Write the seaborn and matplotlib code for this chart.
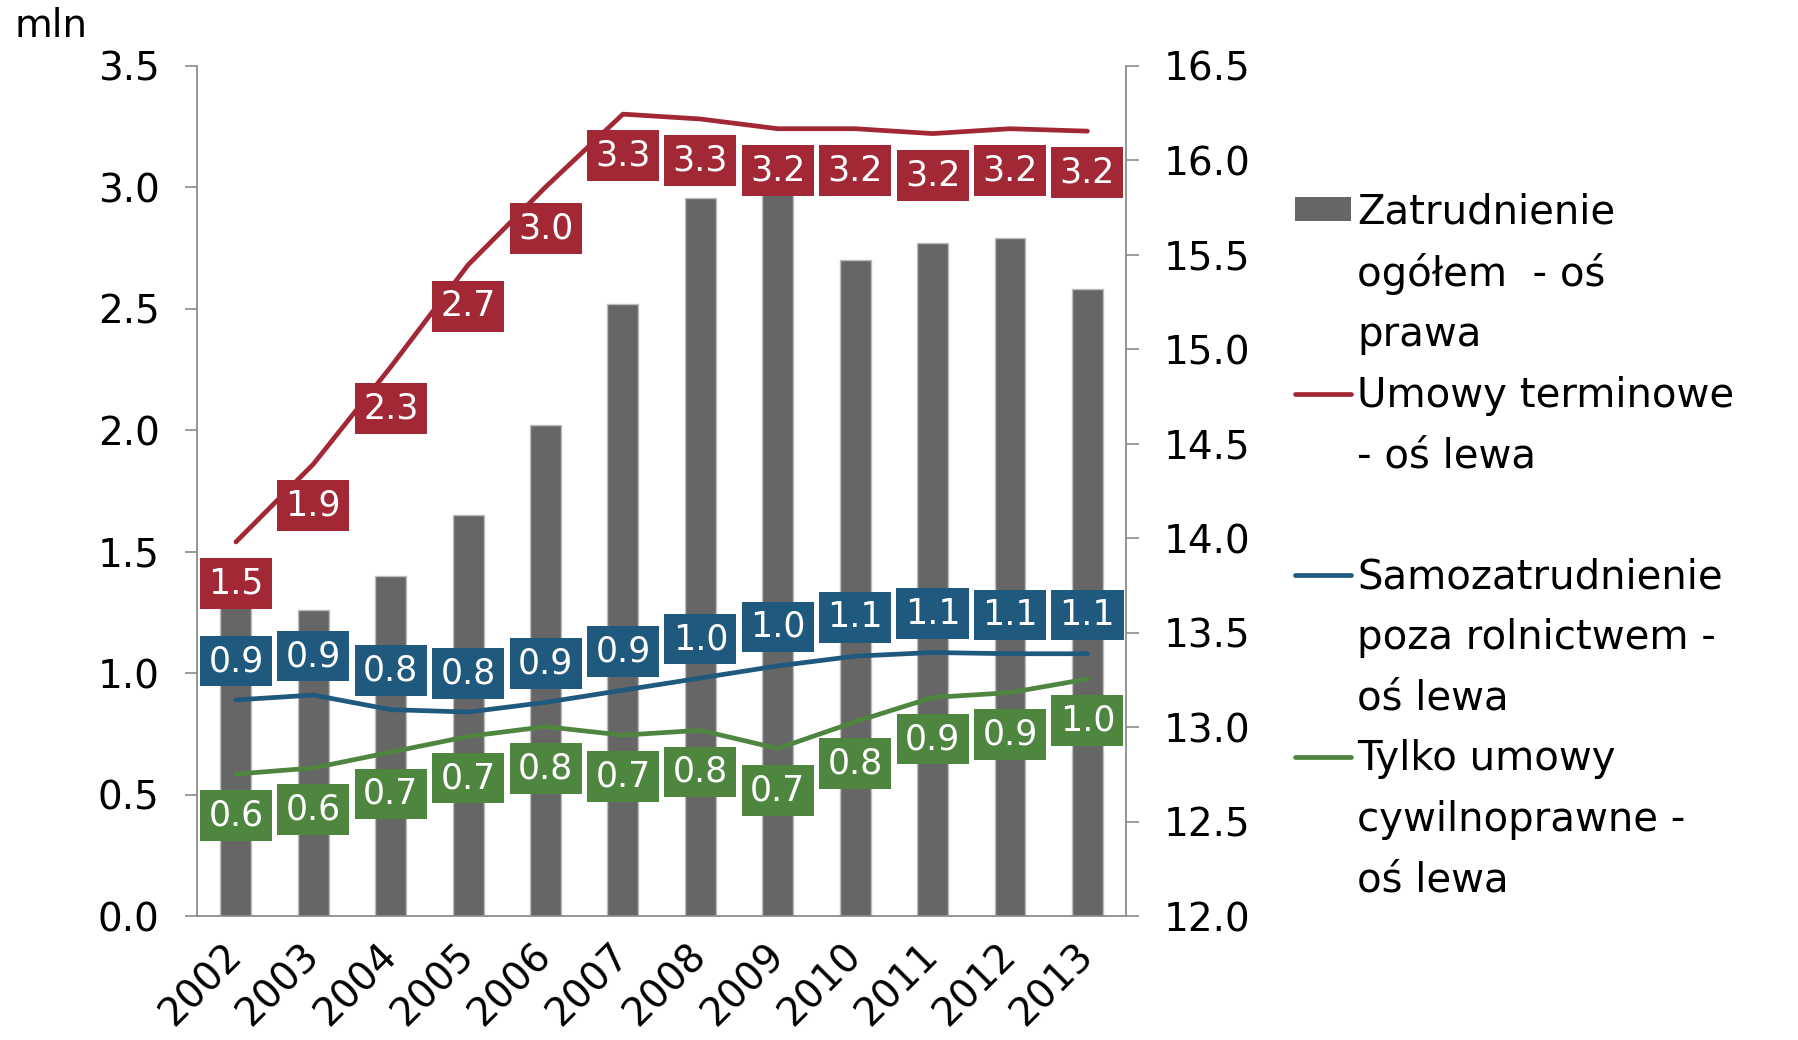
import numpy as np
import pandas as pd
import seaborn as sns
import matplotlib
matplotlib.use("Agg")
import matplotlib.pyplot as plt
from matplotlib.lines import Line2D
from matplotlib.patches import Patch

# Dane
lata = ["2002", "2003", "2004", "2005", "2006", "2007",
        "2008", "2009", "2010", "2011", "2012", "2013"]
zatrudnienie = [13.75, 13.62, 13.80, 14.12, 14.60, 15.24,
                15.80, 15.87, 15.47, 15.56, 15.59, 15.32]          # os prawa, mln
umowy_terminowe = [1.54, 1.86, 2.26, 2.68, 3.00, 3.30,
                   3.28, 3.24, 3.24, 3.22, 3.24, 3.23]             # os lewa
samozatrudnienie = [0.89, 0.91, 0.85, 0.84, 0.88, 0.93,
                    0.98, 1.03, 1.07, 1.085, 1.08, 1.08]
cywilnoprawne = [0.585, 0.61, 0.675, 0.74, 0.78, 0.745,
                 0.765, 0.69, 0.80, 0.90, 0.92, 0.976]

CZERWONY = "#A12834"
NIEBIESKI = "#1F597D"
ZIELONY = "#4E8640"
SZARY = "#666666"
OS = "#8c8c8c"

sns.set_theme(style="white")
plt.rcParams["font.family"] = ["DejaVu Sans"]
plt.rcParams["text.color"] = "black"
plt.rcParams["xtick.labelcolor"] = "black"
plt.rcParams["ytick.labelcolor"] = "black"

df = pd.DataFrame({"rok": lata, "zatrudnienie": zatrudnienie})
poz = np.arange(len(lata))
linie = pd.DataFrame({
    "poz": np.tile(poz, 3),
    "wartosc": umowy_terminowe + samozatrudnienie + cywilnoprawne,
    "seria": ["ut"] * 12 + ["sz"] * 12 + ["cp"] * 12,
})

fig = plt.figure(figsize=(17.98, 10.4), dpi=100)
ax = fig.add_axes([0.1097, 0.119, 0.5166, 0.818])
ax2 = ax.twinx()

# slupki - os prawa
sns.barplot(data=df, x="rok", y="zatrudnienie", color=SZARY, saturation=1,
            width=0.4, edgecolor="#bdbdbd", linewidth=1, ax=ax2)
ax2.set_ylim(12, 16.5)

# linie - os lewa
sns.lineplot(data=linie, x="poz", y="wartosc", hue="seria",
             palette={"ut": CZERWONY, "sz": NIEBIESKI, "cp": ZIELONY},
             linewidth=3.4, legend=False, ax=ax)
ax.set_zorder(ax2.get_zorder() + 1)
ax.patch.set_visible(False)
ax.set_ylim(0, 3.5)
ax.set_xlim(-0.5, 11.5)

# etykiety danych
for wartosci, kolor, dy in [(umowy_terminowe, CZERWONY, -30),
                            (samozatrudnienie, NIEBIESKI, 28),
                            (cywilnoprawne, ZIELONY, -30)]:
    for i, v in enumerate(wartosci):
        ax.annotate(f"{v:.1f}", (poz[i], v), xytext=(0, dy),
                    textcoords="offset points", ha="center", va="center",
                    color="white", fontsize=25,
                    bbox=dict(boxstyle="square,pad=0.24", fc=kolor, ec="none"))

# osie
ax.set_yticks(np.arange(0, 3.51, 0.5))
ax.set_yticklabels([f"{t:.1f}" for t in np.arange(0, 3.51, 0.5)])
ax2.set_yticks(np.arange(12, 16.51, 0.5))
ax2.set_yticklabels([f"{t:.1f}" for t in np.arange(12, 16.51, 0.5)])
ax.set_xticks(poz)
ax.set_xticklabels(lata, rotation=45, ha="right", va="center",
                   rotation_mode="anchor")
ax.set_xticks(np.arange(-0.5, 12, 1), minor=True)
ax.tick_params(axis="x", which="major", length=0, pad=24, labelsize=28,
               labelcolor="black")
ax.tick_params(axis="x", which="minor", length=12, width=1.2, color=OS)
ax.tick_params(axis="y", length=9, width=1.2, color=OS, labelsize=28, pad=18,
               labelcolor="black")
ax2.tick_params(axis="y", length=9, width=1.2, color=OS, labelsize=28, pad=18,
                labelcolor="black")
ax.set_xlabel("")
ax.set_ylabel("")
ax2.set_ylabel("")

for a in (ax, ax2):
    for s in a.spines.values():
        s.set_color(OS)
        s.set_linewidth(1.3)
    a.spines["top"].set_visible(False)
ax.spines["right"].set_visible(False)
for s in ("left", "bottom"):
    ax2.spines[s].set_visible(False)

fig.text(0.008, 0.975, "mln", fontsize=28, va="center", ha="left",
         color="black")

# legenda
pusty = Line2D([], [], linestyle="none")
uchwyty = [Patch(facecolor=SZARY, edgecolor="none"), pusty, pusty,
           Line2D([], [], color=CZERWONY, linewidth=3.4), pusty, pusty,
           Line2D([], [], color=NIEBIESKI, linewidth=3.4), pusty, pusty,
           Line2D([], [], color=ZIELONY, linewidth=3.4), pusty, pusty]
opisy = ["Zatrudnienie", "ogółem  - oś", "prawa",
         "Umowy terminowe", "- oś lewa", " ",
         "Samozatrudnienie", "poza rolnictwem -", "oś lewa",
         "Tylko umowy", "cywilnoprawne -", "oś lewa"]
leg = fig.legend(uchwyty, opisy, loc="upper left", bbox_to_anchor=(0.72, 0.815),
                 frameon=False, fontsize=29, handlelength=1.4, handleheight=0.55,
                 handletextpad=0.15, labelspacing=0.51, borderpad=0,
                 borderaxespad=0)
for t in leg.get_texts():
    t.set_color("black")

fig.savefig("out.png", dpi=100)
